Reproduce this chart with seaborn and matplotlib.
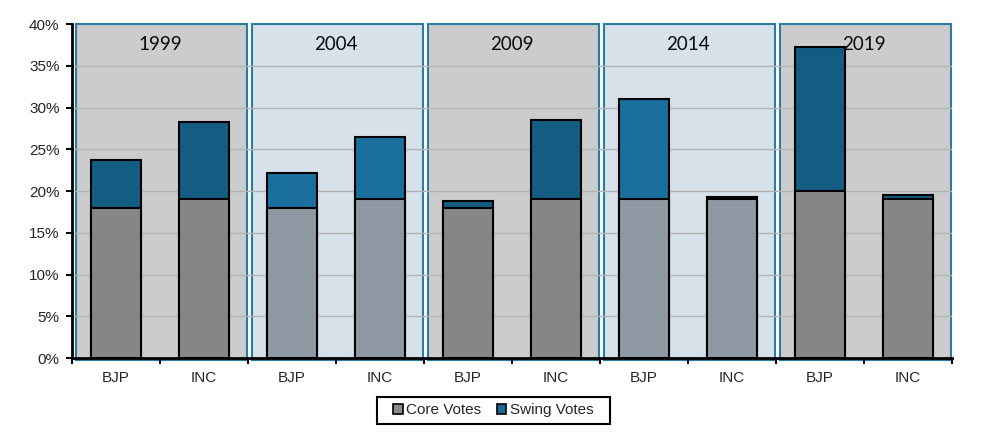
import matplotlib.pyplot as plt
from matplotlib.patches import Rectangle, Patch
import seaborn as sns
import pandas as pd

# values (percent of votes)
years = ['1999', '2004', '2009', '2014', '2019']
parties = ['BJP', 'INC']
core_votes = [18.0, 19.0, 18.0, 19.0, 18.0, 19.0, 19.0, 19.0, 20.0, 19.0]
total_votes = [23.7, 28.3, 22.1, 26.5, 18.8, 28.5, 31.0, 19.3, 37.3, 19.5]
y_ticks = [0, 5, 10, 15, 20, 25, 30, 35, 40]

keys = [y + ' ' + p for y in years for p in parties]
df = pd.DataFrame({'key': keys,
                   'party': [p for _ in years for p in parties],
                   'core': core_votes,
                   'total': total_votes})

# alternating panel looks: (panel fill, core colour, swing colour)
looks = [('#cccccc', '#868686', '#135c82'),
         ('#d7e1ea', '#8f99a3', '#1b6f9f')]

sns.set_style('white')
plt.rcParams['font.family'] = ['Liberation Sans', 'DejaVu Sans']

fig = plt.figure(figsize=(9.85, 4.45), dpi=100)
ax = fig.add_axes([0.0731, 0.1955, 0.8934, 0.7505])

# swing = total bar, core drawn over it
sns.barplot(data=df, x='key', y='total', ax=ax, width=0.57,
            edgecolor='black', linewidth=1.5, zorder=3)
n = len(df)
sns.barplot(data=df, x='key', y='core', ax=ax, width=0.57,
            edgecolor='black', linewidth=1.5, zorder=4)
for i, patch in enumerate(ax.patches):
    look = looks[(i % n) // 2 % 2]
    patch.set_facecolor(look[2] if i < n else look[1])

# panels behind the bars
for g, year in enumerate(years):
    look = looks[g % 2]
    left = g * 2 - 0.5
    ax.add_patch(Rectangle((left + 0.04, -0.25), 1.95, 40.25,
                           facecolor=look[0], edgecolor='#2a7ba6',
                           linewidth=1.5, zorder=0, clip_on=False))
    ax.text(left + 1.0, 37.6, year, ha='center', va='center',
            fontsize=13.5, color='#0a0a0a', family=['Lato', 'DejaVu Sans'],
            zorder=2)

for t in y_ticks[1:-1]:
    ax.axhline(t, color='#b3b3b3', linewidth=1, zorder=1)

ax.set_xlim(-0.5, 9.5)
ax.set_ylim(0, 40)
ax.set_yticks(y_ticks)
ax.set_yticklabels([str(t) + '%' for t in y_ticks], fontsize=11)
ax.set_xticks(range(n))
ax.set_xticklabels(df['party'], fontsize=11)
ax.set_xticks([i - 0.5 for i in range(n + 1)], minor=True)
ax.tick_params(axis='x', which='major', length=0, pad=9)
ax.tick_params(axis='x', which='minor', length=4, width=1.5,
               direction='out', color='black', bottom=True)
ax.tick_params(axis='y', length=4, width=1.5, direction='out',
               color='black', left=True, pad=5)
ax.set_xlabel('')
ax.set_ylabel('')

for side in ['top', 'right']:
    ax.spines[side].set_visible(False)
for side in ['left', 'bottom']:
    ax.spines[side].set_color('black')
    ax.spines[side].set_linewidth(2)
    ax.spines[side].set_zorder(5)

# legend box is wider than the entries, so draw the frame separately
fig.patches.append(Rectangle((0.3828, 0.047), 0.2365, 0.0607,
                             transform=fig.transFigure, facecolor='white',
                             edgecolor='black', linewidth=1.5, zorder=1))
handles = [Patch(facecolor='#8a8a8a', edgecolor='black', linewidth=1.2,
                 label='Core Votes'),
           Patch(facecolor='#1a6a99', edgecolor='black', linewidth=1.2,
                 label='Swing Votes')]
leg = fig.legend(handles=handles, loc='center', bbox_to_anchor=(0.501, 0.078),
                 ncol=2, fontsize=11, frameon=False,
                 handlelength=0.6, handleheight=0.6, handletextpad=0.25,
                 columnspacing=1.0, borderpad=0.4, borderaxespad=0)
leg.set_zorder(2)

fig.savefig('out.png', dpi=100)
